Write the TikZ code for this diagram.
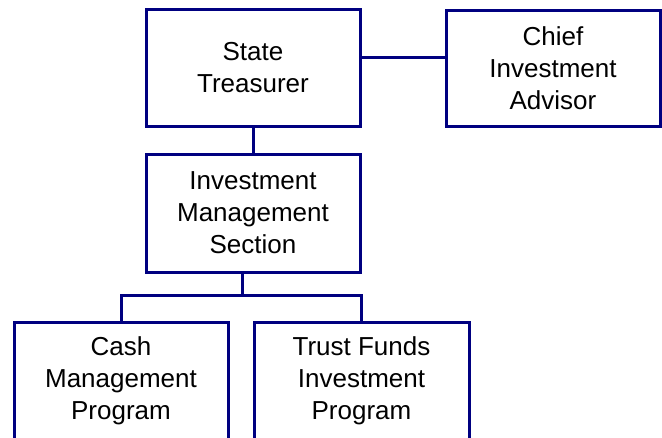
\documentclass[tikz,border=0pt]{standalone}
\usepackage{fontspec}
\setmainfont{Liberation Sans}
\usetikzlibrary{calc}
\definecolor{navy}{RGB}{0,0,128}
\tikzset{
  orgbox/.style={draw=navy, line width=3pt, fill=white, rectangle,
    minimum width=214pt, minimum height=118pt, inner sep=0pt,
    align=center, text=black, font=\fontsize{26}{32}\selectfont},
  link/.style={draw=navy, line width=3pt}
}
\begin{document}
\begin{tikzpicture}[x=1pt, y=-1pt]
  \path[use as bounding box, fill=white] (0,0) rectangle (662,437);
  \clip (0,0) rectangle (662,437);

  % boxes
  \node[orgbox, minimum height=117pt] (st)    at (253,67.5) {State\\Treasurer};
  \node[orgbox, minimum height=116pt] (cia)   at (553,68)   {Chief\\Investment\\Advisor};
  \node[orgbox] (ims)   at (253,213)  {Investment\\Management\\Section};
  \node[orgbox] (cash)  at (121,381)  {Cash\\Management\\Program};
  \node[orgbox, minimum width=215pt] (trust) at (361.5,381) {Trust Funds\\Investment\\Program};

  % connectors
  \coordinate (h) at (400,57);
  \coordinate (j) at (242,295);
  \draw[link] (st.east |- h) -- (cia.west |- h);
  \draw[link] (st.south) -- (ims.north);
  \draw[link] (ims.south -| j) -- (j);
  \draw[link] (cash.north) |- (j) -| (trust.north);
\end{tikzpicture}
\end{document}
